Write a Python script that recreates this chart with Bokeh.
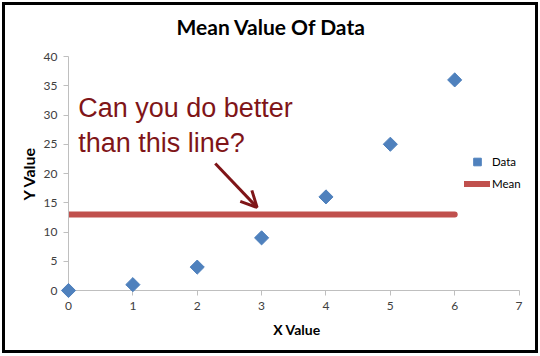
import numpy as np
from bokeh.plotting import figure
from bokeh.models import (Label, Arrow, OpenHead, Legend, LegendItem, FixedTicker,
                          Range1d)
from bokeh.embed import file_html
from bokeh.resources import INLINE

# ---- data ----
x_values = [0, 1, 2, 3, 4, 5, 6]
y_values = [0, 1, 4, 9, 16, 25, 36]
x_ticks = [0, 1, 2, 3, 4, 5, 6, 7]
y_ticks = [0, 5, 10, 15, 20, 25, 30, 35, 40]
title_text = "Mean Value Of Data"
x_label = "X Value"
y_label = "Y Value"
note_lines = ["Can you do better", "than this line?"]
series_names = ["Data", "Mean"]

mean_y = float(np.mean(y_values))
mean_x = [min(x_values), max(x_values)]

BLUE = "#4F81BD"
RED = "#C0504D"
NOTE = "#7F1518"
FONT = "Lato"

# 3px black border with 2px white margin around the chart
p = figure(width=530, height=345, output_backend="svg", toolbar_location=None,
           x_range=Range1d(0, 7.1), y_range=Range1d(0, 40),
           min_border_left=63, min_border_right=16, min_border_top=51, min_border_bottom=66,
           background_fill_color="white", border_fill_color="white")
p.styles = {"border": "3px solid black", "margin": "2px", "box-sizing": "content-box",
            "overflow": "hidden"}
p.outline_line_color = None
p.xgrid.visible = False
p.ygrid.visible = False

for ax in (p.xaxis[0], p.yaxis[0]):
    ax.axis_line_color = "#BFBFBF"
    ax.major_tick_line_color = "#BFBFBF"
    ax.minor_tick_line_color = None
    ax.major_tick_in = 0
    ax.major_tick_out = 5
    ax.major_label_text_font = FONT
    ax.major_label_text_font_size = "12px"
    ax.major_label_text_color = "#404040"
    ax.axis_label_text_font = FONT
    ax.axis_label_text_font_style = "bold"
    ax.axis_label_text_color = "black"
    ax.major_label_standoff = 6

p.xaxis[0].ticker = FixedTicker(ticks=x_ticks)
p.yaxis[0].ticker = FixedTicker(ticks=y_ticks)
p.xaxis[0].bounds = (x_ticks[0], x_ticks[-1])
p.xaxis[0].axis_label = x_label
p.yaxis[0].axis_label = y_label
p.xaxis[0].axis_label_text_font_size = "14px"
p.yaxis[0].axis_label_text_font_size = "16px"
p.xaxis[0].axis_label_standoff = 8
p.yaxis[0].axis_label_standoff = 3

r_mean = p.line(mean_x, [mean_y, mean_y], line_color=RED, line_width=6, line_cap="round")
r_data = p.scatter(x_values, y_values, marker="square", size=10, angle=np.pi / 4,
                   fill_color=BLUE, line_color=BLUE, level="overlay")

legend = Legend(items=[LegendItem(label=series_names[0], renderers=[r_data]),
                       LegendItem(label=series_names[1], renderers=[r_mean])],
                location=(396, 97), orientation="vertical",
                glyph_width=26, glyph_height=19, label_height=19, spacing=3,
                label_standoff=2, label_width=30, padding=0, margin=0,
                border_line_color=None, background_fill_alpha=0,
                label_text_font=FONT, label_text_font_size="11.5px",
                label_text_color="black")
p.add_layout(legend, "center")

title = Label(x=108, y=30, x_units="screen", y_units="screen", text=title_text,
              text_font=FONT, text_font_style="bold", text_font_size="21px",
              text_color="black", text_align="left", text_baseline="middle")
p.add_layout(title, "above")

note_x = 0.15
note_y = [31.2, 25.2]
for t, yy in zip(note_lines, note_y):
    p.add_layout(Label(x=note_x, y=yy, text=t, text_font="Liberation Sans",
                       text_font_size="27px", text_color=NOTE,
                       text_baseline="alphabetic", text_align="left"))

p.add_layout(Arrow(x_start=2.28, y_start=21.7, x_end=2.93, y_end=14.2,
                   line_color=NOTE, line_width=3,
                   end=OpenHead(size=16, line_color=NOTE, line_width=3)))

open("out.html", "w").write(file_html(p, INLINE))
